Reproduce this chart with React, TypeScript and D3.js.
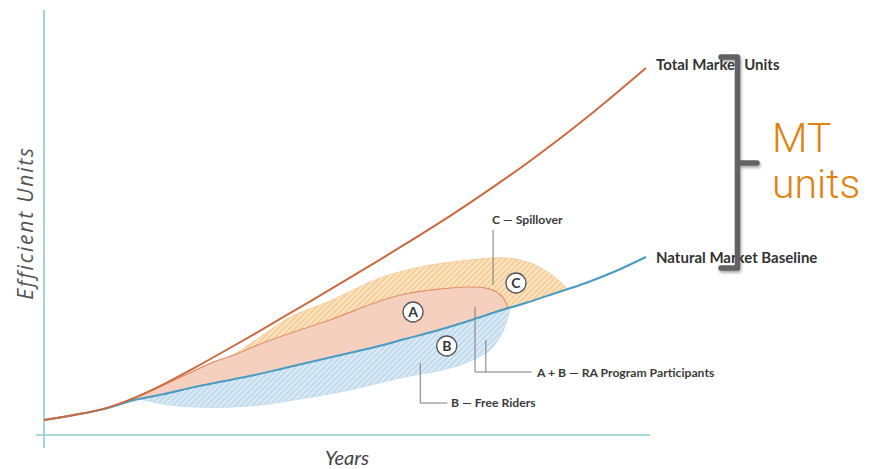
import React from "react";
import * as d3 from "d3";

// ---- data (x: years 0..100, y: efficient units 0..100) ----
const years = [0, 5, 10, 15, 20, 25, 30, 35, 40, 45, 50, 55, 60, 65, 70, 75, 80, 85, 90, 95, 100];
const totalMarket = [3.75, 5, 6.6, 9.3, 12.8, 16.8, 21.0, 25.3, 29.7, 34.1, 38.6, 43.1, 47.7, 52.4, 57.3, 62.4, 67.7, 73.3, 79.2, 85.4, 91.75];
const naturalBaseline = [3.75, 5, 6.5, 8.75, 10.25, 12, 13.5, 15, 16.75, 18.5, 20.25, 22, 24, 26, 28.25, 30.75, 33, 35.5, 38, 41, 44.5];

// Region boundaries [year, units]
const participantsTop: [number, number][] = [
  [12.6, 7.75], [17.6, 10.9], [24.3, 15.6], [28.4, 18.4], [31.4, 19.9], [35.9, 22.75],
  [42.5, 26.25], [47.5, 28.75], [55.8, 33.5], [60.8, 35.5], [65.8, 36.5], [70.3, 37],
  [73.3, 36.75], [75.2, 35.75], [76.4, 34], [77.1, 31.8],
];
const spilloverTop: [number, number][] = [
  [31.4, 19.9], [35.9, 24.5], [40.9, 29.5], [47.5, 33.5], [55.8, 39.25], [62.5, 42],
  [69.1, 43.5], [76.9, 44.25], [81.2, 42.75], [84.6, 39.75], [87, 36.5],
];
const freeRiderBottom: [number, number][] = [
  [15.9, 9], [20.9, 7.5], [28.1, 6.9], [35.9, 7.5], [42.5, 9], [50.8, 11.25],
  [59.1, 14.25], [66.9, 16.5], [70.8, 18.5], [74.1, 21.25], [76.1, 25.5], [77.1, 29.75], [77.4, 31.6],
];

const regionMarkers = [
  { label: "A", x: 61.3, y: 30.75 },
  { label: "B", x: 66.9, y: 22.25 },
  { label: "C", x: 78.4, y: 38 },
];

const axisTitleY = "Efficient Units";
const axisTitleX = "Years";
const totalLabel = "Total Market Units";
const baselineLabel = "Natural Market Baseline";
const spilloverLabel = "C — Spillover";
const participantsLabel = "A + B — RA Program Participants";
const freeRiderLabel = "B — Free Riders";

export default function App() {
  const W = 876, H = 469;
  const x = d3.scaleLinear().domain([0, 100]).range([44, 646]);
  const y = d3.scaleLinear().domain([0, 100]).range([435, 35]);

  const line = d3.line<[number, number]>().x(d => x(d[0])).y(d => y(d[1])).curve(d3.curveMonotoneX);
  const smooth = d3.line<[number, number]>().x(d => x(d[0])).y(d => y(d[1])).curve(d3.curveCatmullRom.alpha(0.5));
  const lin = d3.line<[number, number]>().x(d => x(d[0])).y(d => y(d[1]));

  const baseAt = d3.scaleLinear().domain(years).range(naturalBaseline);
  const totalPts = years.map((t, i) => [t, totalMarket[i]] as [number, number]);
  const basePts = years.map((t, i) => [t, naturalBaseline[i]] as [number, number]);

  const baseSliceBack = (from: number, to: number) => {
    const pts: [number, number][] = [[from, baseAt(from)]];
    for (let i = years.length - 1; i >= 0; i--) {
      if (years[i] < from && years[i] > to) pts.push([years[i], naturalBaseline[i]]);
    }
    pts.push([to, baseAt(to)]);
    return (lin(pts) || "").replace(/^M/, "L");
  };
  const region = (pts: [number, number][]) =>
    (smooth(pts) || "") + baseSliceBack(pts[pts.length - 1][0], pts[0][0]) + "Z";

  const aPath = region(participantsTop);
  const cPath = region(spilloverTop);
  const bPath = region(freeRiderBottom);

  const font = "Lato, 'Open Sans', sans-serif";
  const leader = "#7a7a7a";

  // annotation anchors in data units
  const cLineX = 74.6, aLineX1 = 71.6, aLineX2 = 73.4, bLineX = 62.5;

  return (
    <svg width={W} height={H} style={{ position: "absolute", left: 0, top: 0, background: "#fff" }}>
      <defs>
        <pattern id="hatchC" patternUnits="userSpaceOnUse" width="4" height="4" patternTransform="rotate(45)">
          <rect width="4" height="4" fill="#fde5c6" />
          <line x1="1" y1="0" x2="1" y2="4" stroke="#f1bb72" strokeWidth="1.1" />
        </pattern>
        <pattern id="hatchB" patternUnits="userSpaceOnUse" width="4" height="4" patternTransform="rotate(45)">
          <rect width="4" height="4" fill="#dcebf6" />
          <line x1="1" y1="0" x2="1" y2="4" stroke="#abcfe7" strokeWidth="1.1" />
        </pattern>
        <filter id="shadow" x="-50%" y="-10%" width="200%" height="120%">
          <feGaussianBlur in="SourceAlpha" stdDeviation="1.5" />
          <feOffset dx="1" dy="2" result="b" />
          <feComponentTransfer><feFuncA type="linear" slope="0.35" /></feComponentTransfer>
          <feMerge><feMergeNode /><feMergeNode in="SourceGraphic" /></feMerge>
        </filter>
      </defs>

      {/* axes */}
      <line x1={x(0)} x2={x(0)} y1={10} y2={448} stroke="#8ccccc" strokeWidth={1.6} />
      <line x1={36} x2={650} y1={y(0)} y2={y(0)} stroke="#8ccccc" strokeWidth={1.6} />

      {/* regions */}
      <path d={cPath} fill="url(#hatchC)" stroke="#f4c993" strokeWidth={0.8} />
      <path d={bPath} fill="url(#hatchB)" stroke="#bcd9ec" strokeWidth={0.8} />
      <path d={aPath} fill="#f6d0bf" />
      <path d={smooth(participantsTop) || ""} fill="none" stroke="#e3906c" strokeWidth={1.2} />

      {/* leader lines */}
      <g stroke={leader} strokeWidth={1} fill="none">
        <line x1={x(cLineX)} x2={x(cLineX)} y1={y(51.25)} y2={y(37.5)} />
        <polyline points={`${x(aLineX1)},${y(32)} ${x(aLineX1)},${y(15.75)} ${x(81)},${y(15.75)}`} />
        <line x1={x(aLineX2)} x2={x(aLineX2)} y1={y(23.75)} y2={y(15.75)} />
        <polyline points={`${x(bLineX)},${y(18)} ${x(bLineX)},${y(8)} ${x(67)},${y(8)}`} />
      </g>

      {/* main lines */}
      <path d={line(basePts) || ""} fill="none" stroke="#4a9bc2" strokeWidth={2} />
      <path d={line(totalPts) || ""} fill="none" stroke="#c96a3f" strokeWidth={2} />

      {/* markers */}
      {regionMarkers.map(m => (
        <g key={m.label} transform={`translate(${x(m.x)},${y(m.y)})`}>
          <circle r={10} fill="#fff" stroke="#555" strokeWidth={1.3} />
          <text textAnchor="middle" dy="5" fontFamily={font} fontWeight={700} fontSize={14} fill="#333">{m.label}</text>
        </g>
      ))}

      {/* annotation texts */}
      <g fontFamily={font} fontSize={12.2} fontWeight={700} fill="#3a3a3a">
        <text x={492} y={224}>{spilloverLabel}</text>
        <text x={537} y={377}>{participantsLabel}</text>
        <text x={451} y={407}>{freeRiderLabel}</text>
      </g>

      <g fontFamily={font} fontSize={15} fontWeight={700} fill="#333">
        <text x={656} y={70}>{totalLabel}</text>
        <text x={656} y={263}>{baselineLabel}</text>
      </g>

      {/* bracket */}
      <path d="M721,57 L737.5,57 L737.5,268 L721,268 M737.5,163 L757,163"
        fill="none" stroke="#626262" strokeWidth={5.5} strokeLinejoin="round" strokeLinecap="round" filter="url(#shadow)" />

      <g fontFamily="Roboto, 'Noto Sans', sans-serif" fontWeight={300} fontSize={41} fill="#e08212">
        <text x={772} y={152}>MT</text>
        <text x={772} y={198}>units</text>
      </g>

      {/* axis titles */}
      <text transform="translate(33,223) rotate(-90)" textAnchor="middle" fontFamily="'Open Sans', sans-serif"
        fontStyle="italic" fontSize={21} letterSpacing={1.8} fill="#555">{axisTitleY}</text>
      <text x={347} y={465} textAnchor="middle" fontFamily={font} fontStyle="italic" fontSize={20} fill="#444">{axisTitleX}</text>
    </svg>
  );
}
